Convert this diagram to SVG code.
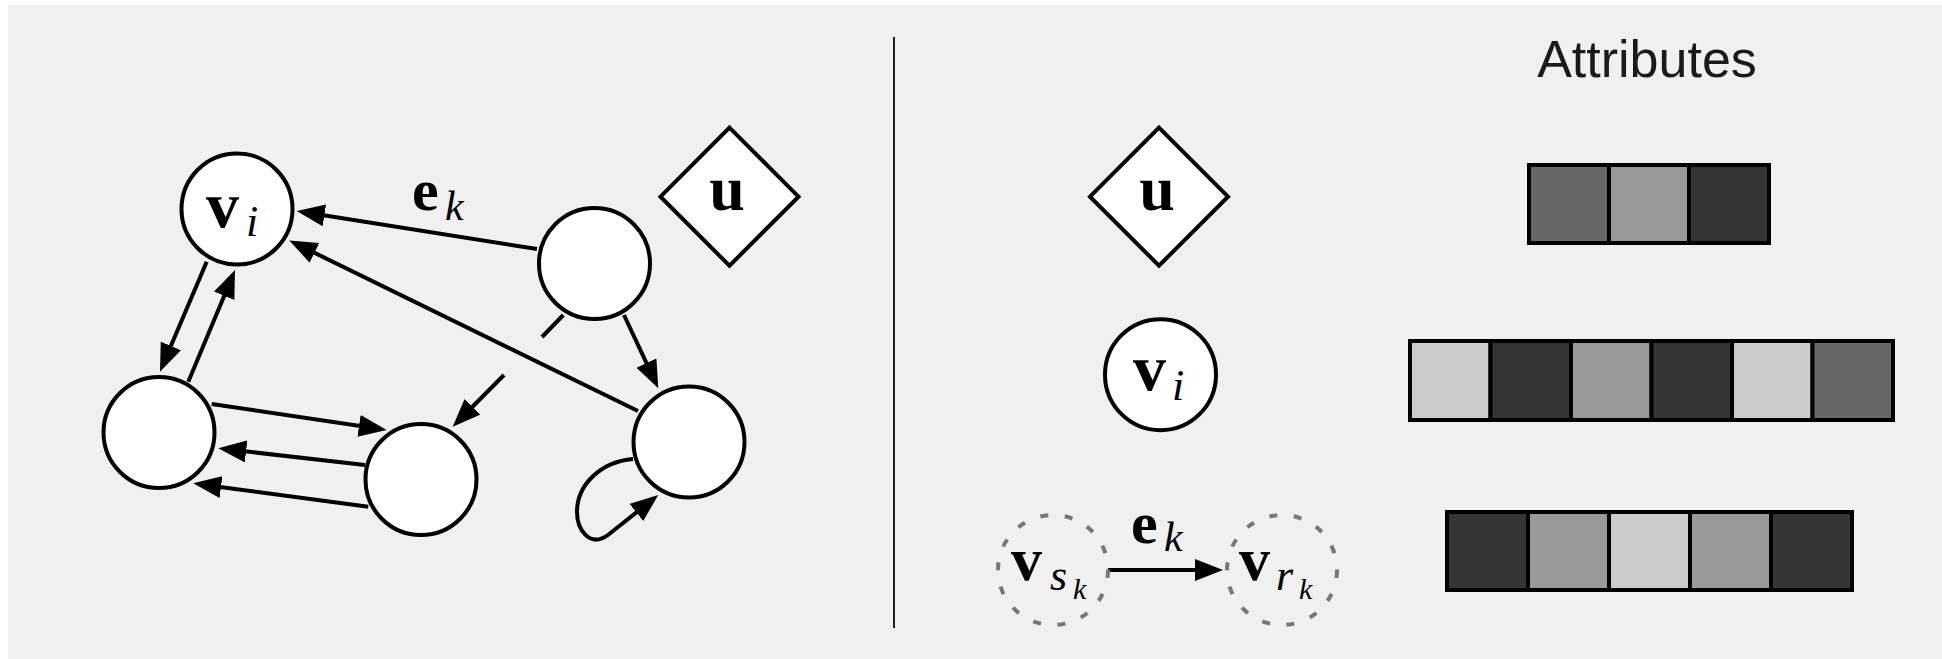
<svg xmlns="http://www.w3.org/2000/svg" width="1942" height="659" viewBox="0 0 1942 659">
  <defs>
    <marker id="arrow" viewBox="0 0 28 22" refX="20" refY="11" markerWidth="28" markerHeight="22" markerUnits="userSpaceOnUse" orient="auto">
      <path d="M0,0 L28,11 L0,22 z" fill="#000"/>
    </marker>
    <style>
      .node { fill: #fff; stroke: #000; stroke-width: 4; }
      .ghost { fill: none; stroke: #777; stroke-width: 4; stroke-dasharray: 8 16.6; }
      .edge { fill: none; stroke: #000; stroke-width: 4; }
      .arr { marker-end: url(#arrow); }
      .bold { font-family: "Liberation Serif", "DejaVu Serif", serif; font-weight: bold; fill: #000; }
      .sub { font-family: "Liberation Serif", "DejaVu Serif", serif; font-style: italic; fill: #000; }
      .cell { stroke: #000; stroke-width: 4; }
      .c1 { fill: #cbcbcb; }
      .c2 { fill: #999999; }
      .c3 { fill: #676767; }
      .c4 { fill: #353535; }
    </style>
  </defs>

  <!-- backdrop -->
  <rect x="0" y="0" width="1942" height="659" fill="#ffffff"/>
  <rect x="8" y="5" width="1934" height="654" fill="#f0f0f0"/>
  <line x1="894" y1="37" x2="894" y2="628" stroke="#222" stroke-width="2"/>

  <!-- graph edges -->
  <g id="connectors">
    <line class="edge arr" x1="537" y1="249" x2="304.6" y2="212.3"/>
    <line class="edge arr" x1="638" y1="411" x2="296.5" y2="244"/>
    <line class="edge arr" x1="206.7" y1="261.7" x2="163.1" y2="364.3"/>
    <line class="edge arr" x1="188.3" y1="381.7" x2="231.9" y2="277.4"/>
    <line class="edge arr" x1="211.7" y1="404" x2="378.8" y2="428.8"/>
    <line class="edge arr" x1="365" y1="465" x2="226.2" y2="449.2"/>
    <line class="edge arr" x1="368.3" y1="506.7" x2="201.2" y2="484.4"/>
    <line class="edge arr" x1="624" y1="315" x2="654.9" y2="381.1"/>
    <line class="edge" x1="563.3" y1="315" x2="542" y2="337"/>
    <line class="edge arr" x1="504" y1="375" x2="458.3" y2="421"/>
    <path class="edge arr" d="M633,459 C600,462 577,485 577,512 C577,530 590,548 608,535 L652,500"/>
    <line class="edge arr" x1="1108" y1="570" x2="1215" y2="570"/>
  </g>

  <!-- graph nodes -->
  <g id="node-vi">
    <circle class="node" cx="237" cy="209" r="55.5"/>
    <text class="bold" x="206" y="227" font-size="66">v</text>
    <text class="sub" x="246" y="236" font-size="44">i</text>
  </g>
  <g id="label-ek">
    <text class="bold" x="412" y="210" font-size="60">e</text>
    <text class="sub" x="445" y="220" font-size="42">k</text>
  </g>
  <g id="node-a">
    <circle class="node" cx="594.5" cy="263.5" r="55.5"/>
  </g>
  <g id="node-b">
    <circle class="node" cx="159" cy="432.5" r="55.5"/>
  </g>
  <g id="node-c">
    <circle class="node" cx="421" cy="479.5" r="55.5"/>
  </g>
  <g id="node-d">
    <circle class="node" cx="689" cy="442" r="55.5"/>
  </g>
  <g id="global-u">
    <path class="node" d="M729.5,127.7 L798.5,196.7 L729.5,265.7 L660.5,196.7 z"/>
    <text class="bold" x="727" y="210" font-size="64" text-anchor="middle">u</text>
  </g>

  <!-- legend column -->
  <g id="legend-u">
    <path class="node" d="M1159,127.7 L1228,196.7 L1159,265.7 L1090,196.7 z"/>
    <text class="bold" x="1157" y="210" font-size="64" text-anchor="middle">u</text>
  </g>
  <g id="legend-vi">
    <circle class="node" cx="1160.5" cy="374.7" r="55.5"/>
    <text class="bold" x="1133" y="390" font-size="66">v</text>
    <text class="sub" x="1172" y="400" font-size="44">i</text>
  </g>
  <g id="legend-edge">
    <circle class="ghost" cx="1053" cy="570" r="55"/>
    <circle class="ghost" cx="1282" cy="570" r="55"/>
    <text class="bold" x="1011" y="580" font-size="62">v</text>
    <text class="sub" x="1050" y="590" font-size="44">s</text>
    <text class="sub" x="1073" y="599" font-size="30">k</text>
    <text class="bold" x="1131" y="543" font-size="60">e</text>
    <text class="sub" x="1164" y="551" font-size="42">k</text>
    <text class="bold" x="1239" y="580" font-size="62">v</text>
    <text class="sub" x="1276" y="590" font-size="44">r</text>
    <text class="sub" x="1299" y="599" font-size="30">k</text>
  </g>

  <!-- attribute vectors -->
  <g id="attributes-title">
    <text x="1647" y="77" font-family="Liberation Sans, Arial, sans-serif" font-size="52" fill="#1a1a1a" text-anchor="middle">Attributes</text>
  </g>
  <g id="attr-u">
    <rect class="cell c3" x="1529" y="165" width="80" height="78"/>
    <rect class="cell c2" x="1609" y="165" width="80" height="78"/>
    <rect class="cell c4" x="1689" y="165" width="80" height="78"/>
  </g>
  <g id="attr-v">
    <rect class="cell c1" x="1410" y="341" width="80.5" height="79"/>
    <rect class="cell c4" x="1490.5" y="341" width="80.5" height="79"/>
    <rect class="cell c2" x="1571" y="341" width="80.5" height="79"/>
    <rect class="cell c4" x="1651.5" y="341" width="80.5" height="79"/>
    <rect class="cell c1" x="1732" y="341" width="80.5" height="79"/>
    <rect class="cell c3" x="1812.5" y="341" width="80.5" height="79"/>
  </g>
  <g id="attr-e">
    <rect class="cell c4" x="1447" y="512" width="81" height="78"/>
    <rect class="cell c2" x="1528" y="512" width="81" height="78"/>
    <rect class="cell c1" x="1609" y="512" width="81" height="78"/>
    <rect class="cell c2" x="1690" y="512" width="81" height="78"/>
    <rect class="cell c4" x="1771" y="512" width="81" height="78"/>
  </g>
</svg>
